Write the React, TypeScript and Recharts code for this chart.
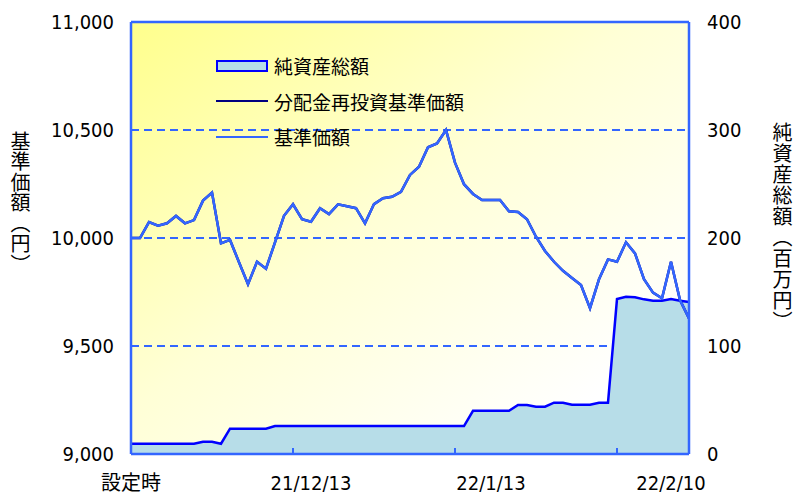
import { ComposedChart, Area, Line, XAxis, YAxis, CartesianGrid, Legend, ReferenceLine } from "recharts";

// x tick labels and tick marks (index positions)
const xLabels = ["設定時", "21/12/13", "22/1/13", "22/2/10"];
const xLabelIdx = [0, 20, 40, 60];
const xTickIdx = [18, 36, 54];

// 基準価額 (円)
const basePrice = [
  10000, 10000, 10074, 10057, 10068, 10102, 10068, 10083, 10173, 10210,
  9975, 9991, 9888, 9786, 9890, 9858, 9980, 10103, 10156, 10087,
  10075, 10138, 10111, 10156, 10147, 10138, 10068, 10157, 10184, 10191,
  10214, 10292, 10330, 10420, 10438, 10500, 10349, 10249, 10204, 10176,
  10176, 10176, 10124, 10120, 10087, 10006, 9940, 9890, 9848, 9815,
  9782, 9675, 9809, 9901, 9890, 9980, 9929, 9809, 9747, 9721,
  9890, 9713, 9628,
];

// 分配金再投資基準価額 (no distributions, same as 基準価額)
const reinvestPrice = basePrice;

// 純資産総額 (百万円)
const netAssets = [
  9.5, 9.5, 9.5, 9.5, 9.5, 9.5, 9.5, 9.5, 11.4, 11.4,
  9.5, 23.4, 23.4, 23.4, 23.4, 23.4, 25.9, 25.9, 25.9, 25.9,
  25.9, 25.9, 25.9, 25.9, 25.9, 25.9, 25.9, 25.9, 25.9, 25.9,
  25.9, 25.9, 25.9, 25.9, 25.9, 25.9, 25.9, 25.9, 40, 40,
  40, 40, 40, 45.4, 45.4, 43.8, 43.8, 47.5, 47.5, 45.6,
  45.6, 45.6, 47.5, 47.5, 143.5, 145.6, 145.1, 143.2, 141.9, 141.9,
  143.5, 141.9, 140.7,
];

const leftTicks = [9000, 9500, 10000, 10500, 11000];
const rightTicks = [0, 100, 200, 300, 400];

const legendItems = ["純資産総額", "分配金再投資基準価額", "基準価額"];

const data = basePrice.map((p, i) => ({
  i,
  price: p,
  reinvest: reinvestPrice[i],
  nav: netAssets[i],
}));

const BLUE = "#3366FF";
const NUM_FONT = "'DejaVu Sans Condensed', 'DejaVu Sans', 'Noto Sans CJK JP', sans-serif";
const JP_FONT = "'Noto Sans CJK JP', sans-serif";

const XTick = (props: any) => {
  const { x, y, payload } = props;
  const v = payload.value;
  const li = xLabelIdx.indexOf(v);
  return (
    <g>
      {xTickIdx.includes(v) && <line x1={x} x2={x} y1={y - 6} y2={y} stroke={BLUE} strokeWidth={2} />}
      {li >= 0 && (
        <text x={x} y={y + 36} textAnchor="middle" fontSize={20} fill="#000" fontFamily={NUM_FONT} style={{ fontStretch: "condensed" }}>
          {xLabels[li]}
        </text>
      )}
    </g>
  );
};

const LegendBox = () => (
  <div style={{ fontFamily: JP_FONT, fontSize: 19, color: "#000" }}>
    {legendItems.map((name, k) => (
      <div key={name} style={{ display: "flex", alignItems: "center", height: 35.5 }}>
        <svg width={52} height={14}>
          {k === 0 && <rect x={1} y={2} width={50} height={10} fill="#B7DDE8" stroke="#0000FF" strokeWidth={2} />}
          {k === 1 && <line x1={0} x2={52} y1={7} y2={7} stroke="#000080" strokeWidth={2} />}
          {k === 2 && <line x1={0} x2={52} y1={7} y2={7} stroke={BLUE} strokeWidth={2} />}
        </svg>
        <span style={{ marginLeft: 6, lineHeight: 1 }}>{name}</span>
      </div>
    ))}
  </div>
);

const vText = {
  position: "absolute" as const,
  writingMode: "vertical-rl" as const,
  fontFamily: JP_FONT,
  fontSize: 20,
  color: "#000",
  lineHeight: 1,
};

export default function App() {
  return (
    <div style={{ position: "absolute", left: 0, top: 0, width: 795, height: 496, background: "#fff" }}>
      <ComposedChart width={795} height={496} data={data} margin={{ top: 22, right: 0, bottom: 0, left: 0 }}>
        <defs>
          <linearGradient id="bg" x1="0" y1="0" x2="1" y2="1">
            <stop offset="0" stopColor="#FFFF8C" />
            <stop offset="0.45" stopColor="#FFFFD6" />
            <stop offset="0.85" stopColor="#FFFFFF" />
          </linearGradient>
        </defs>
        <CartesianGrid yAxisId="left" vertical={false} stroke={BLUE} strokeWidth={2} strokeDasharray="8 5" fill="url(#bg)" fillOpacity={1} />
        <XAxis
          dataKey="i"
          type="number"
          domain={[0, 62]}
          ticks={[...xLabelIdx, ...xTickIdx].sort((a, b) => a - b)}
          interval={0}
          tick={XTick}
          tickLine={false}
          tickSize={0}
          tickMargin={0}
          height={42}
          axisLine={{ stroke: BLUE, strokeWidth: 2.5 }}
        />
        <YAxis
          yAxisId="left"
          domain={[9000, 11000]}
          ticks={leftTicks}
          tickFormatter={(v: number) => v.toLocaleString("en-US")}
          width={131}
          tickLine={false}
          tickSize={0}
          tickMargin={17}
          axisLine={{ stroke: BLUE, strokeWidth: 2.5 }}
          tick={{ fontSize: 20, fill: "#000", fontFamily: NUM_FONT, style: { fontStretch: "condensed" } }}
        />
        <YAxis
          yAxisId="right"
          orientation="right"
          domain={[0, 400]}
          ticks={rightTicks}
          width={106}
          tickLine={false}
          tickSize={0}
          tickMargin={18}
          axisLine={{ stroke: BLUE, strokeWidth: 2.5 }}
          tick={{ fontSize: 20, fill: "#000", fontFamily: NUM_FONT, textAnchor: "start", style: { fontStretch: "condensed" } }}
        />
        <ReferenceLine yAxisId="left" y={11000} stroke={BLUE} strokeWidth={2.5} />
        <Area
          yAxisId="right"
          dataKey="nav"
          name="純資産総額"
          type="linear"
          stroke="#0000FF"
          strokeWidth={2.5}
          fill="#B7DDE8"
          fillOpacity={1}
          isAnimationActive={false}
        />
        <Line yAxisId="left" dataKey="reinvest" name="分配金再投資基準価額" type="linear" stroke="#000080" strokeWidth={2.5} dot={false} isAnimationActive={false} />
        <Line yAxisId="left" dataKey="price" name="基準価額" type="linear" stroke={BLUE} strokeWidth={2.5} dot={false} isAnimationActive={false} />
        <Legend
          layout="horizontal"
          verticalAlign="middle"
          align="center"
          content={LegendBox}
          wrapperStyle={{ top: 48, left: 216, width: 320 }}
        />
      </ComposedChart>
      <div style={{ ...vText, left: 10, top: 131, letterSpacing: 0.5 }}>基準価額（円）</div>
      <div style={{ ...vText, left: 772, top: 122, letterSpacing: 1 }}>純資産総額（百万円）</div>
    </div>
  );
}
